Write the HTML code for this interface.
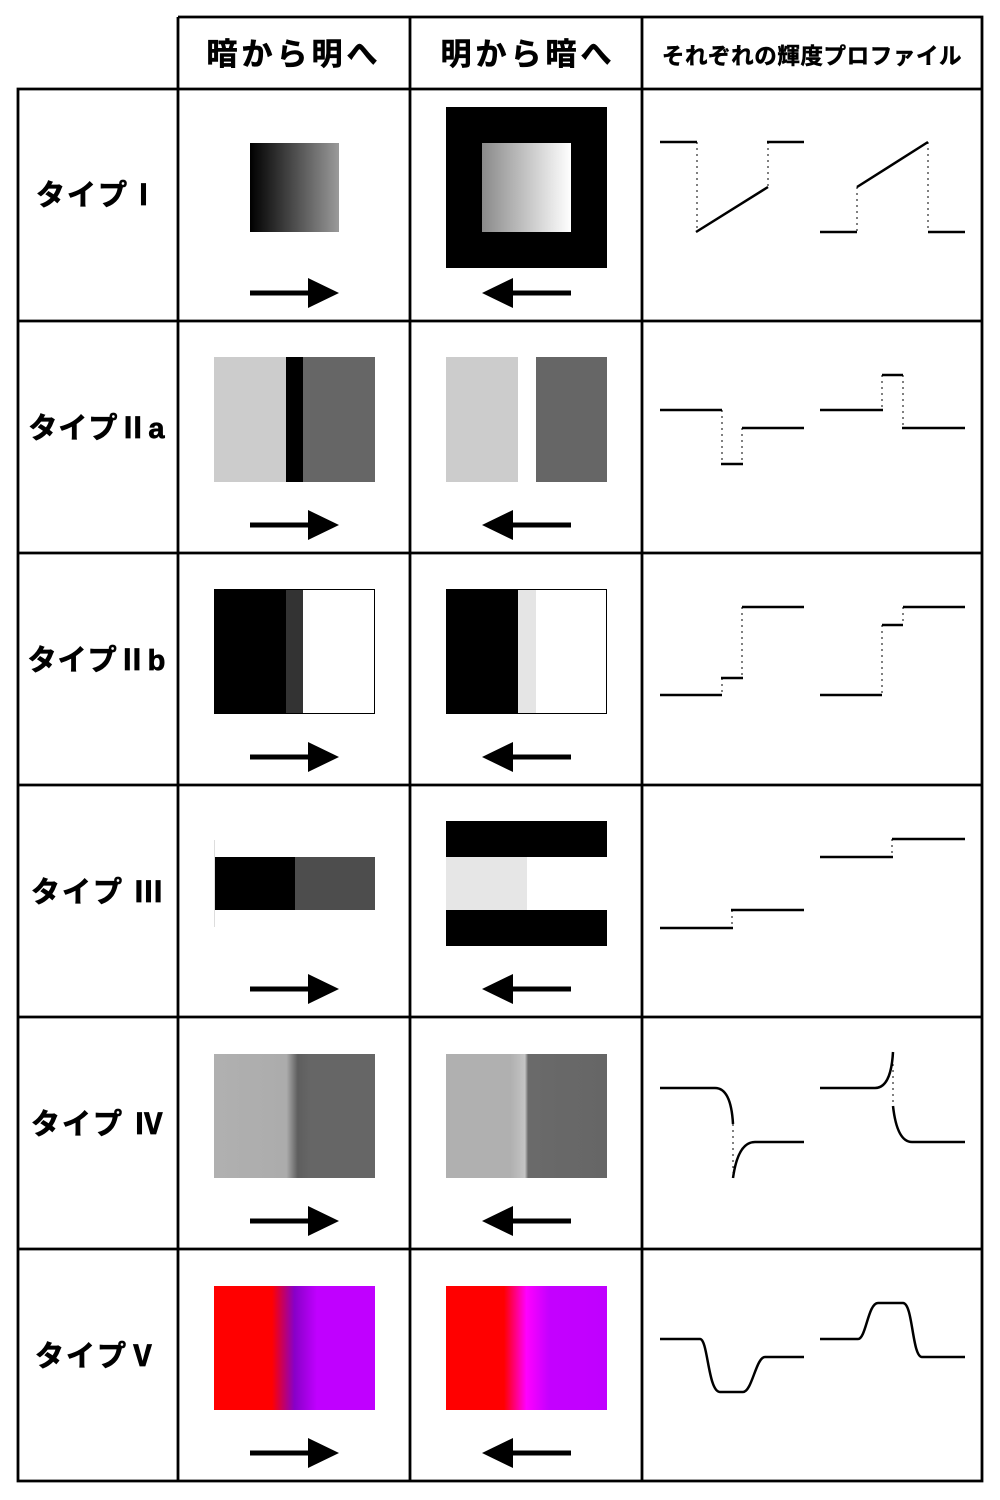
<!DOCTYPE html>
<html><head><meta charset="utf-8"><style>
html,body{margin:0;padding:0;background:#fff;}
svg{display:block;}
text{font-family:"Liberation Sans","Noto Sans CJK JP",sans-serif;font-weight:bold;fill:#000;}
</style></head><body>
<svg width="1000" height="1500" viewBox="0 0 1000 1500" xmlns="http://www.w3.org/2000/svg">
<defs>
<linearGradient id="g1" x1="0" x2="1"><stop offset="0" stop-color="#000"/><stop offset="1" stop-color="#9a9a9a"/></linearGradient>
<linearGradient id="g2" x1="0" x2="1"><stop offset="0" stop-color="#8a8a8a"/><stop offset="1" stop-color="#fff"/></linearGradient>
<linearGradient id="g4a" x1="0" x2="1"><stop offset="0" stop-color="#b0b0b0"/><stop offset="0.45" stop-color="#acacac"/><stop offset="0.52" stop-color="#5e5e5e"/><stop offset="0.6" stop-color="#666"/><stop offset="1" stop-color="#666"/></linearGradient>
<linearGradient id="g4b" x1="0" x2="1"><stop offset="0" stop-color="#b0b0b0"/><stop offset="0.4" stop-color="#b0b0b0"/><stop offset="0.49" stop-color="#c4c4c4"/><stop offset="0.51" stop-color="#6a6a6a"/><stop offset="1" stop-color="#666"/></linearGradient>
<linearGradient id="g5a" x1="0" x2="1"><stop offset="0" stop-color="#f00"/><stop offset="0.36" stop-color="#f00"/><stop offset="0.5" stop-color="#8800c8"/><stop offset="0.64" stop-color="#c000ff"/><stop offset="1" stop-color="#c000ff"/></linearGradient>
<linearGradient id="g5b" x1="0" x2="1"><stop offset="0" stop-color="#f00"/><stop offset="0.36" stop-color="#f00"/><stop offset="0.5" stop-color="#ff00ff"/><stop offset="0.64" stop-color="#c400ff"/><stop offset="1" stop-color="#c000ff"/></linearGradient>
<g id="ar"><line x1="250" y1="0" x2="312" y2="0" stroke="#000" stroke-width="5"/><polygon points="308,-15 339,0 308,15" fill="#000"/></g>
<g id="al"><line x1="510" y1="0" x2="571" y2="0" stroke="#000" stroke-width="5"/><polygon points="513,-15 482,0 513,15" fill="#000"/></g>
</defs>

<rect x="250" y="143" width="89" height="89" fill="url(#g1)"/>
<rect x="446" y="107" width="161" height="161" fill="#000"/>
<rect x="482" y="143" width="89" height="89" fill="url(#g2)"/>

<rect x="214" y="357" width="72" height="125" fill="#ccc"/><rect x="286" y="357" width="17" height="125" fill="#000"/><rect x="303" y="357" width="72" height="125" fill="#666"/>
<rect x="446" y="357" width="72" height="125" fill="#ccc"/><rect x="518" y="357" width="18" height="125" fill="#fff"/><rect x="536" y="357" width="71" height="125" fill="#666"/>

<rect x="214" y="589" width="72" height="125" fill="#000"/><rect x="286" y="589" width="17" height="125" fill="#333"/><rect x="214.5" y="589.5" width="160" height="124" fill="none" stroke="#000" stroke-width="1"/>
<rect x="446" y="589" width="72" height="125" fill="#000"/><rect x="518" y="589" width="18" height="125" fill="#e5e5e5"/><rect x="446.5" y="589.5" width="160" height="124" fill="none" stroke="#000" stroke-width="1"/>

<rect x="214" y="857" width="81" height="53" fill="#000"/><rect x="295" y="857" width="80" height="53" fill="#4d4d4d"/>
<line x1="214.5" y1="840" x2="214.5" y2="927" stroke="#ddd" stroke-width="1"/>
<rect x="446" y="821" width="161" height="36" fill="#000"/><rect x="446" y="857" width="81" height="53" fill="#e6e6e6"/><rect x="446" y="910" width="161" height="36" fill="#000"/>

<rect x="214" y="1054" width="161" height="124" fill="url(#g4a)"/>
<rect x="446" y="1054" width="161" height="124" fill="url(#g4b)"/>
<rect x="214" y="1286" width="161" height="124" fill="url(#g5a)"/>
<rect x="446" y="1286" width="161" height="124" fill="url(#g5b)"/>

<use href="#ar" y="293"/><use href="#al" y="293"/>
<use href="#ar" y="525"/><use href="#al" y="525"/>
<use href="#ar" y="757"/><use href="#al" y="757"/>
<use href="#ar" y="989"/><use href="#al" y="989"/>
<use href="#ar" y="1221"/><use href="#al" y="1221"/>
<use href="#ar" y="1453"/><use href="#al" y="1453"/>

<g fill="none" stroke="#000" stroke-width="2.5">
<path d="M660 142H697M696 232L768 187M767 142H804"/>
<path d="M820 232H857M857 187L928 142M928 232H965"/>
<path d="M660 410H722M721 464H743M742 428H804"/>
<path d="M820 410H883M882 375H903M902 428H965"/>
<path d="M660 695H722M721 678H743M742 607H804"/>
<path d="M820 695H882M882 625H903M903 607H965"/>
<path d="M660 928H733M731 910H804"/>
<path d="M820 857H893M892 839H965"/>
<path d="M660 1088H715Q731 1088 733 1124M733 1178Q738 1142 755 1142H804"/>
<path d="M820 1088H875Q891 1088 893 1052M893 1106Q897 1142 912 1142H965"/>
<path d="M660 1339H700C708 1339 708 1392 720 1392H743C752 1392 756 1357 765 1357H804"/>
<path d="M820 1339H858C866 1339 868 1303 878 1303H903C913 1303 912 1357 922 1357H965"/>
</g>
<g fill="none" stroke="#000" stroke-width="1" stroke-dasharray="2 4">
<path d="M697 142V232M768 142V187M857 187V232M928 142V232"/>
<path d="M722 410V464M742 428V464M882 375V410M903 375V428"/>
<path d="M722 678V695M742 607V678M882 625V695M903 607V625"/>
<path d="M732 910V928M892 839V857M733 1124V1178M893 1052V1106"/>
</g>

<g stroke="#000" stroke-width="2.8" fill="none">
<path d="M178 17H982V1481H18V89H982"/>
<path d="M178 17V1481M410 17V1481M642 17V1481"/>
<path d="M18 321H982M18 553H982M18 785H982M18 1017H982M18 1249H982"/>
</g>

<text x="294" y="65" font-size="31" text-anchor="middle" letter-spacing="4" stroke="#000" stroke-width="0.6">暗から明へ</text>
<text x="528" y="65" font-size="31" text-anchor="middle" letter-spacing="4" stroke="#000" stroke-width="0.6">明から暗へ</text>
<text x="812" y="64" font-size="22.5" text-anchor="middle" letter-spacing="0.6" stroke="#000" stroke-width="0.5">それぞれの輝度プロファイル</text>
<g stroke="#000" stroke-width="0.7" font-size="29" text-anchor="middle">
<text x="98" y="205" letter-spacing="2">タイプⅠ</text>
<text x="97" y="438" letter-spacing="1">タイプⅡa</text>
<text x="97" y="670" letter-spacing="1">タイプⅡb</text>
<text x="98" y="902" letter-spacing="2">タイプ Ⅲ</text>
<text x="98" y="1134" letter-spacing="2">タイプ Ⅳ</text>
<text x="97" y="1366" letter-spacing="2">タイプⅤ</text>
</g>
</svg>
</body></html>
